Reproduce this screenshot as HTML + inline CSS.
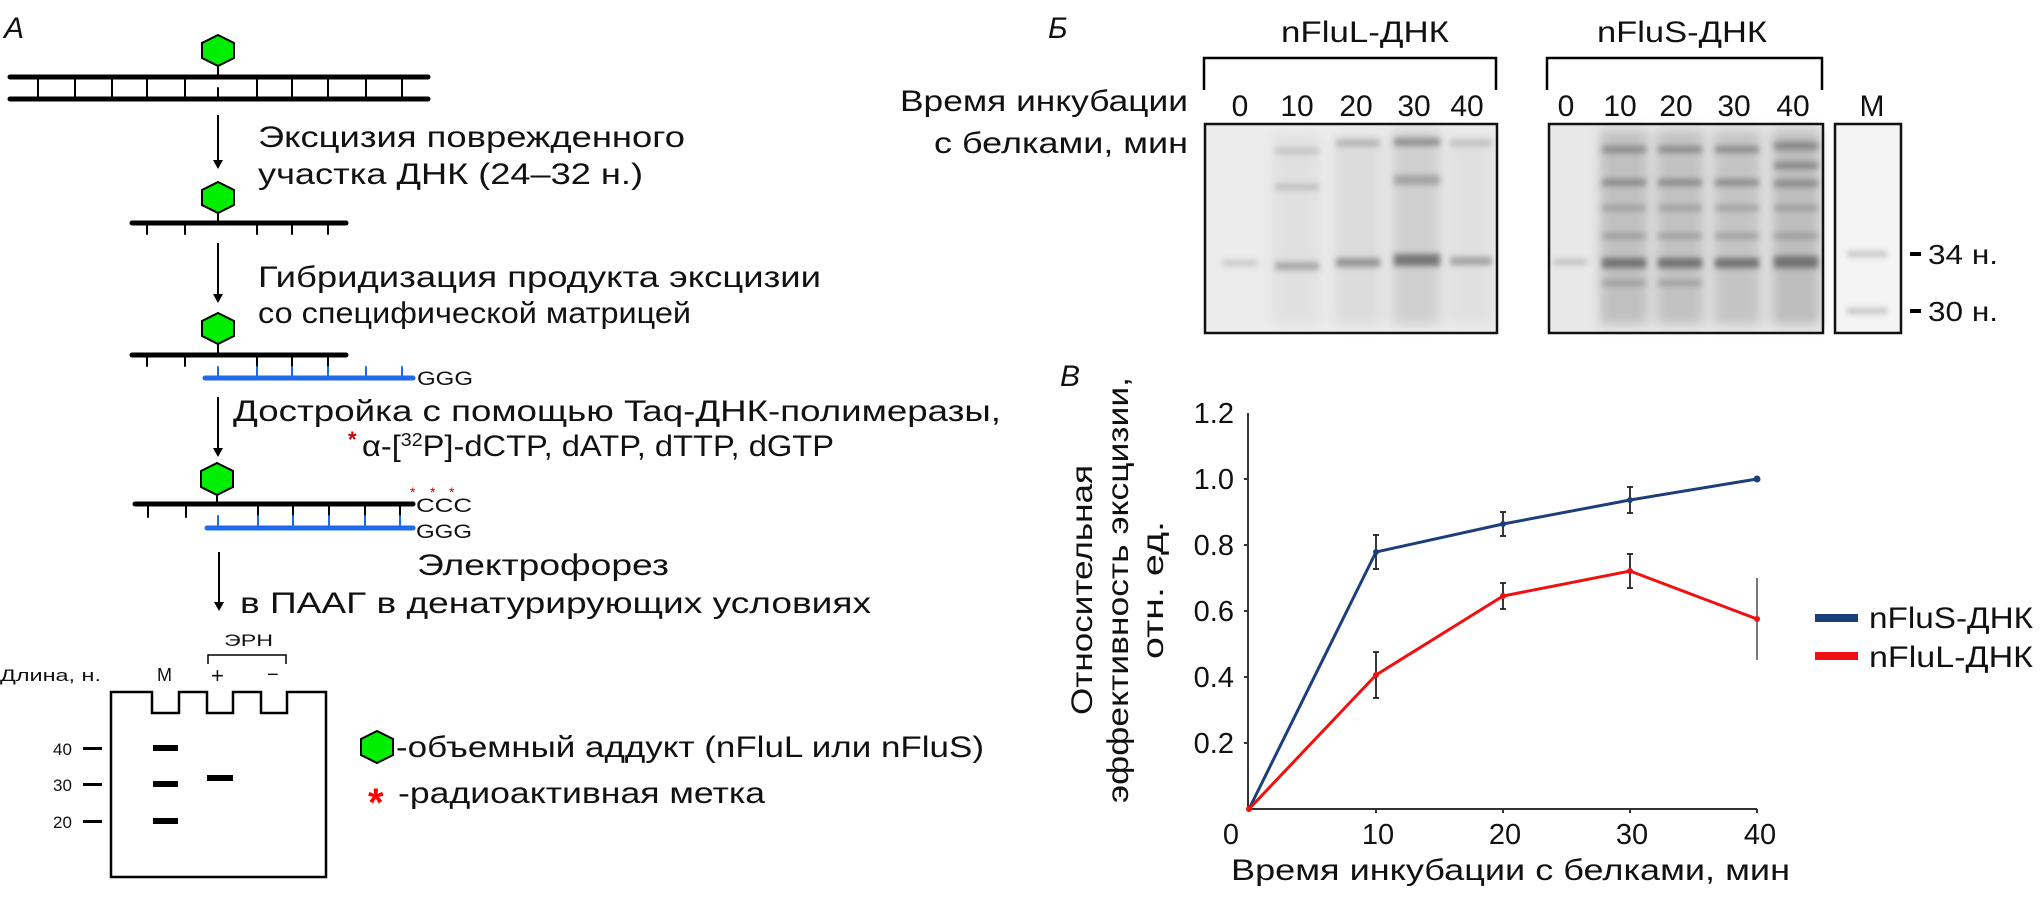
<!DOCTYPE html>
<html><head><meta charset="utf-8"><style>
html,body{margin:0;padding:0;background:#fff;}
svg{display:block;}
text{font-family:"Liberation Sans","DejaVu Sans",sans-serif;fill:#111;}
</style></head><body>
<svg width="2044" height="898" viewBox="0 0 2044 898" xmlns="http://www.w3.org/2000/svg">
<defs>
<filter id="bl" x="-20%" y="-50%" width="140%" height="200%"><feGaussianBlur stdDeviation="3"/></filter>
<filter id="bl2" x="-20%" y="-20%" width="140%" height="140%"><feGaussianBlur stdDeviation="6"/></filter>
</defs>

<!-- ===== Panel A ===== -->
<text x="4" y="38" font-size="30" font-style="italic">А</text>
<g stroke="#000" stroke-width="2">
  <line x1="218" y1="62" x2="218" y2="77"/>
</g>
<polygon points="218,35 234,43 234,58 218,66 202,58 202,43" fill="#0e0" stroke="#000" stroke-width="2"/>
<g stroke="#000" stroke-linecap="round">
  <line x1="10" y1="77" x2="428" y2="77" stroke-width="5"/>
  <line x1="10" y1="99" x2="428" y2="99" stroke-width="5"/>
  <g stroke-width="2">
    <line x1="38" y1="77" x2="38" y2="99"/><line x1="75" y1="77" x2="75" y2="99"/>
    <line x1="112" y1="77" x2="112" y2="99"/><line x1="147" y1="77" x2="147" y2="99"/>
    <line x1="185" y1="77" x2="185" y2="99"/><line x1="218" y1="88" x2="218" y2="99"/>
    <line x1="257" y1="77" x2="257" y2="99"/><line x1="292" y1="77" x2="292" y2="99"/>
    <line x1="328" y1="77" x2="328" y2="99"/><line x1="366" y1="77" x2="366" y2="99"/>
    <line x1="402" y1="77" x2="402" y2="99"/>
  </g>
</g>
<!-- arrow 1 -->
<line x1="218" y1="115" x2="218" y2="162" stroke="#000" stroke-width="2"/>
<polygon points="213,160 223,160 218,169" fill="#000"/>
<text x="258" y="147" font-size="30" textLength="427" lengthAdjust="spacingAndGlyphs">Эксцизия поврежденного</text>
<text x="258" y="184" font-size="30" textLength="385" lengthAdjust="spacingAndGlyphs">участка ДНК (24–32 н.)</text>

<line x1="218" y1="210" x2="218" y2="223" stroke="#000" stroke-width="2"/>
<polygon points="218,182 234,190 234,205 218,213 202,205 202,190" fill="#0e0" stroke="#000" stroke-width="2"/>
<g stroke="#000" stroke-linecap="round">
  <line x1="132" y1="223" x2="346" y2="223" stroke-width="5"/>
  <g stroke-width="2">
    <line x1="147" y1="223" x2="147" y2="234"/><line x1="185" y1="223" x2="185" y2="234"/>
    <line x1="257" y1="223" x2="257" y2="234"/><line x1="292" y1="223" x2="292" y2="234"/>
    <line x1="328" y1="223" x2="328" y2="234"/>
  </g>
</g>
<line x1="218" y1="243" x2="218" y2="296" stroke="#000" stroke-width="2"/>
<polygon points="213,294 223,294 218,303" fill="#000"/>
<text x="258" y="287" font-size="30" textLength="563" lengthAdjust="spacingAndGlyphs">Гибридизация продукта эксцизии</text>
<text x="258" y="323" font-size="30" textLength="433" lengthAdjust="spacingAndGlyphs">со специфической матрицей</text>

<line x1="218" y1="340" x2="218" y2="355" stroke="#000" stroke-width="2"/>
<polygon points="218,313 234,321 234,336 218,344 202,336 202,321" fill="#0e0" stroke="#000" stroke-width="2"/>
<g stroke-linecap="round">
  <line x1="132" y1="355" x2="346" y2="355" stroke="#000" stroke-width="5"/>
  <line x1="205" y1="378" x2="413" y2="378" stroke="#1e6ae8" stroke-width="5"/>
  <g stroke="#000" stroke-width="2">
    <line x1="147" y1="355" x2="147" y2="366"/><line x1="185" y1="355" x2="185" y2="366"/>
    <line x1="257" y1="355" x2="257" y2="367"/><line x1="292" y1="355" x2="292" y2="367"/>
    <line x1="328" y1="355" x2="328" y2="367"/>
  </g>
  <g stroke="#1e6ae8" stroke-width="2">
    <line x1="218" y1="367" x2="218" y2="378"/><line x1="257" y1="367" x2="257" y2="378"/>
    <line x1="292" y1="367" x2="292" y2="378"/><line x1="328" y1="367" x2="328" y2="378"/>
    <line x1="366" y1="367" x2="366" y2="378"/><line x1="402" y1="367" x2="402" y2="378"/>
  </g>
</g>
<text x="417" y="385" font-size="19" textLength="56" lengthAdjust="spacingAndGlyphs">GGG</text>

<line x1="218" y1="397" x2="218" y2="450" stroke="#000" stroke-width="2"/>
<polygon points="213,448 223,448 218,457" fill="#000"/>
<text x="233" y="421" font-size="30" textLength="768" lengthAdjust="spacingAndGlyphs">Достройка с помощью Taq-ДНК-полимеразы,</text>
<text x="348" y="447" font-size="22" font-weight="bold" style="fill:#c00">*</text>
<text x="362" y="456" font-size="30" textLength="472" lengthAdjust="spacingAndGlyphs">α-[<tspan font-size="18" dy="-10">32</tspan><tspan dy="10">P]-dCTP, dATP, dTTP, dGTP</tspan></text>

<line x1="217" y1="492" x2="217" y2="504" stroke="#000" stroke-width="2"/>
<polygon points="217,463 233,471 233,487 217,495 201,487 201,471" fill="#0e0" stroke="#000" stroke-width="2"/>
<g stroke-linecap="round">
  <line x1="135" y1="504" x2="413" y2="504" stroke="#000" stroke-width="5"/>
  <line x1="207" y1="528" x2="413" y2="528" stroke="#1e6ae8" stroke-width="5"/>
  <g stroke="#000" stroke-width="2">
    <line x1="148" y1="504" x2="148" y2="517"/><line x1="186" y1="504" x2="186" y2="517"/>
    <line x1="258" y1="504" x2="258" y2="516"/><line x1="293" y1="504" x2="293" y2="516"/>
    <line x1="329" y1="504" x2="329" y2="516"/><line x1="365" y1="504" x2="365" y2="516"/>
    <line x1="400" y1="504" x2="400" y2="516"/>
  </g>
  <g stroke="#1e6ae8" stroke-width="2">
    <line x1="218" y1="516" x2="218" y2="528"/><line x1="258" y1="516" x2="258" y2="528"/>
    <line x1="293" y1="516" x2="293" y2="528"/><line x1="329" y1="516" x2="329" y2="528"/>
    <line x1="365" y1="516" x2="365" y2="528"/><line x1="400" y1="516" x2="400" y2="528"/>
  </g>
</g>
<text x="410" y="497" font-size="14" style="fill:#c00">*</text>
<text x="430" y="497" font-size="14" style="fill:#c00">*</text>
<text x="449" y="497" font-size="14" style="fill:#c00">*</text>
<text x="416" y="512" font-size="19" textLength="56" lengthAdjust="spacingAndGlyphs">CCC</text>
<text x="416" y="538" font-size="19" textLength="56" lengthAdjust="spacingAndGlyphs">GGG</text>

<line x1="219" y1="552" x2="219" y2="604" stroke="#000" stroke-width="2"/>
<polygon points="214,602 224,602 219,611" fill="#000"/>
<text x="417" y="575" font-size="30" textLength="252" lengthAdjust="spacingAndGlyphs">Электрофорез</text>
<text x="240" y="613" font-size="30" textLength="631" lengthAdjust="spacingAndGlyphs">в ПААГ в денатурирующих условиях</text>

<!-- schematic gel -->
<text x="224" y="646" font-size="17" textLength="49" lengthAdjust="spacingAndGlyphs">ЭРН</text>
<polyline points="208,664 208,655 286,655 286,664" fill="none" stroke="#000" stroke-width="1.5"/>
<text x="0" y="681" font-size="17" textLength="101" lengthAdjust="spacingAndGlyphs">Длина, н.</text>
<text x="157" y="681" font-size="18">М</text>
<text x="211" y="683" font-size="22">+</text>
<text x="267" y="681" font-size="20">−</text>
<path d="M111,877 L111,692 L152,692 L152,713 L179,713 L179,692 L207,692 L207,713 L233,713 L233,692 L261,692 L261,713 L287,713 L287,692 L326,692 L326,877 Z" fill="none" stroke="#000" stroke-width="2.5"/>
<g fill="#000">
  <rect x="153" y="745" width="25" height="6"/>
  <rect x="153" y="781" width="25" height="6"/>
  <rect x="153" y="818" width="25" height="6"/>
  <rect x="207" y="775" width="26" height="6"/>
  <rect x="83" y="747" width="19" height="3"/>
  <rect x="83" y="783" width="19" height="3"/>
  <rect x="83" y="820" width="19" height="3"/>
</g>
<text x="53" y="755" font-size="17">40</text>
<text x="53" y="791" font-size="17">30</text>
<text x="53" y="828" font-size="17">20</text>

<polygon points="377,731 393,739 393,755 377,763 361,755 361,739" fill="#0e0" stroke="#000" stroke-width="2"/>
<text x="396" y="757" font-size="30" textLength="588" lengthAdjust="spacingAndGlyphs">-объемный аддукт (nFluL или nFluS)</text>
<text x="368" y="816" font-size="40" font-weight="bold" style="fill:#f00">*</text>
<text x="398" y="803" font-size="30" textLength="367" lengthAdjust="spacingAndGlyphs">-радиоактивная метка</text>

<!-- ===== Panel Б ===== -->
<text x="1048" y="38" font-size="30" font-style="italic">Б</text>
<text x="1281" y="42" font-size="30" textLength="168" lengthAdjust="spacingAndGlyphs">nFluL-ДНК</text>
<text x="1597" y="42" font-size="30" textLength="170" lengthAdjust="spacingAndGlyphs">nFluS-ДНК</text>
<polyline points="1204,90 1204,58 1496,58 1496,90" fill="none" stroke="#000" stroke-width="2.5"/>
<polyline points="1547,90 1547,58 1822,58 1822,90" fill="none" stroke="#000" stroke-width="2.5"/>
<text x="1188" y="111" font-size="30" text-anchor="end" textLength="288" lengthAdjust="spacingAndGlyphs">Время инкубации</text>
<text x="1188" y="153" font-size="30" text-anchor="end" textLength="254" lengthAdjust="spacingAndGlyphs">с белками, мин</text>
<g font-size="30" text-anchor="middle">
  <text x="1240" y="116">0</text><text x="1297" y="116">10</text><text x="1356" y="116">20</text><text x="1414" y="116">30</text><text x="1467" y="116">40</text>
  <text x="1566" y="116">0</text><text x="1620" y="116">10</text><text x="1676" y="116">20</text><text x="1734" y="116">30</text><text x="1793" y="116">40</text>
  <text x="1872" y="116">М</text>
</g>

<!-- gel 1 -->
<rect x="1205" y="124" width="292" height="209" fill="#ececec"/>
<g filter="url(#bl2)" fill="#ccc">
  <rect x="1272" y="135" width="48" height="190" opacity="0.35"/>
  <rect x="1334" y="135" width="48" height="190" opacity="0.5"/>
  <rect x="1392" y="130" width="48" height="195" opacity="0.9"/>
  <rect x="1448" y="135" width="45" height="190" opacity="0.35"/>
</g>
<g filter="url(#bl)" fill="#777">
  <rect x="1222" y="260" width="36" height="6" opacity="0.3"/>
  <rect x="1275" y="262" width="44" height="8" opacity="0.55"/>
  <rect x="1336" y="258" width="44" height="9" opacity="0.7"/>
  <rect x="1394" y="254" width="46" height="12" opacity="1"/>
  <rect x="1450" y="257" width="42" height="8" opacity="0.6"/>
  <rect x="1394" y="138" width="46" height="8" opacity="0.7"/>
  <rect x="1336" y="140" width="44" height="6" opacity="0.45"/>
  <rect x="1275" y="148" width="44" height="6" opacity="0.3"/>
  <rect x="1275" y="184" width="44" height="6" opacity="0.35"/>
  <rect x="1394" y="175" width="46" height="10" opacity="0.5"/>
  <rect x="1450" y="140" width="42" height="6" opacity="0.35"/>
</g>
<rect x="1205" y="124" width="292" height="209" fill="none" stroke="#111" stroke-width="2.5"/>

<!-- gel 2 -->
<rect x="1549" y="124" width="274" height="209" fill="#e8e8e8"/>
<g filter="url(#bl2)" fill="#bbb">
  <rect x="1600" y="130" width="48" height="195" opacity="0.9"/>
  <rect x="1656" y="130" width="48" height="195" opacity="0.85"/>
  <rect x="1713" y="130" width="48" height="195" opacity="0.8"/>
  <rect x="1772" y="130" width="48" height="195" opacity="0.95"/>
</g>
<g filter="url(#bl)" fill="#666">
  <rect x="1553" y="259" width="34" height="6" opacity="0.3"/>
  <g opacity="0.85">
    <rect x="1602" y="258" width="44" height="10"/><rect x="1658" y="258" width="44" height="10"/>
    <rect x="1715" y="258" width="44" height="10"/><rect x="1774" y="256" width="44" height="12"/>
  </g>
  <g opacity="0.6">
    <rect x="1602" y="146" width="44" height="7"/><rect x="1658" y="146" width="44" height="7"/>
    <rect x="1715" y="146" width="44" height="7"/><rect x="1774" y="142" width="44" height="8"/>
    <rect x="1602" y="179" width="44" height="7"/><rect x="1658" y="179" width="44" height="7"/>
    <rect x="1715" y="179" width="44" height="7"/><rect x="1774" y="162" width="44" height="7"/>
    <rect x="1774" y="180" width="44" height="7"/>
  </g>
  <g opacity="0.4">
    <rect x="1602" y="205" width="44" height="6"/><rect x="1658" y="205" width="44" height="6"/>
    <rect x="1715" y="205" width="44" height="6"/><rect x="1774" y="205" width="44" height="6"/>
    <rect x="1602" y="233" width="44" height="6"/><rect x="1658" y="233" width="44" height="6"/>
    <rect x="1715" y="233" width="44" height="6"/><rect x="1774" y="233" width="44" height="6"/>
    <rect x="1602" y="280" width="44" height="6"/><rect x="1658" y="280" width="44" height="6"/>
  </g>
</g>
<rect x="1549" y="124" width="274" height="209" fill="none" stroke="#111" stroke-width="2.5"/>

<!-- marker lane -->
<rect x="1835" y="124" width="66" height="209" fill="#f4f4f4"/>
<g filter="url(#bl)" fill="#888" opacity="0.45">
  <rect x="1847" y="251" width="40" height="6"/>
  <rect x="1847" y="308" width="40" height="6"/>
</g>
<rect x="1835" y="124" width="66" height="209" fill="none" stroke="#111" stroke-width="2.5"/>
<rect x="1910" y="252" width="11" height="4" fill="#000"/>
<rect x="1910" y="309" width="11" height="4" fill="#000"/>
<text x="1928" y="264" font-size="28" textLength="70" lengthAdjust="spacingAndGlyphs">34 н.</text>
<text x="1928" y="321" font-size="28" textLength="70" lengthAdjust="spacingAndGlyphs">30 н.</text>

<!-- ===== Panel В ===== -->
<text x="1060" y="386" font-size="30" font-style="italic">В</text>
<g font-size="30" text-anchor="middle">
  <text transform="translate(1092,590) rotate(-90)" textLength="250" lengthAdjust="spacingAndGlyphs">Относительная</text>
  <text transform="translate(1128,590) rotate(-90)" textLength="426" lengthAdjust="spacingAndGlyphs">эффективность эксцизии,</text>
  <text transform="translate(1163,590) rotate(-90)" textLength="138" lengthAdjust="spacingAndGlyphs">отн. ед.</text>
</g>
<g stroke="#333" stroke-width="2" fill="none">
  <line x1="1248" y1="413" x2="1248" y2="809"/>
  <line x1="1248" y1="809" x2="1757" y2="809"/>
  <line x1="1244" y1="479" x2="1248" y2="479"/>
  <line x1="1244" y1="545" x2="1248" y2="545"/>
  <line x1="1244" y1="611" x2="1248" y2="611"/>
  <line x1="1244" y1="677" x2="1248" y2="677"/>
  <line x1="1244" y1="743" x2="1248" y2="743"/>
  <line x1="1376" y1="809" x2="1376" y2="813"/>
  <line x1="1503" y1="809" x2="1503" y2="813"/>
  <line x1="1630" y1="809" x2="1630" y2="813"/>
  <line x1="1757" y1="809" x2="1757" y2="813"/>
</g>
<g font-size="29" text-anchor="end">
  <text x="1234" y="423">1.2</text><text x="1234" y="489">1.0</text><text x="1234" y="555">0.8</text>
  <text x="1234" y="621">0.6</text><text x="1234" y="687">0.4</text><text x="1234" y="753">0.2</text>
</g>
<g font-size="29" text-anchor="middle">
  <text x="1231" y="844">0</text><text x="1378" y="844">10</text><text x="1505" y="844">20</text>
  <text x="1632" y="844">30</text><text x="1760" y="844">40</text>
</g>
<text x="1231" y="880" font-size="30" textLength="559" lengthAdjust="spacingAndGlyphs">Время инкубации с белками, мин</text>

<polyline points="1249,809 1376,552 1503,524 1630,500 1757,479" fill="none" stroke="#1c3f7a" stroke-width="3"/>
<polyline points="1249,809 1376,675 1503,596 1630,571 1757,619" fill="none" stroke="#f01010" stroke-width="3"/>
<g stroke="#222" stroke-width="1.8">
  <line x1="1376" y1="535" x2="1376" y2="569"/><line x1="1373" y1="535" x2="1379" y2="535"/><line x1="1373" y1="569" x2="1379" y2="569"/>
  <line x1="1503" y1="512" x2="1503" y2="536"/><line x1="1500" y1="512" x2="1506" y2="512"/><line x1="1500" y1="536" x2="1506" y2="536"/>
  <line x1="1630" y1="487" x2="1630" y2="513"/><line x1="1627" y1="487" x2="1633" y2="487"/><line x1="1627" y1="513" x2="1633" y2="513"/>
  <line x1="1376" y1="652" x2="1376" y2="698"/><line x1="1373" y1="652" x2="1379" y2="652"/><line x1="1373" y1="698" x2="1379" y2="698"/>
  <line x1="1503" y1="583" x2="1503" y2="609"/><line x1="1500" y1="583" x2="1506" y2="583"/><line x1="1500" y1="609" x2="1506" y2="609"/>
  <line x1="1630" y1="554" x2="1630" y2="588"/><line x1="1627" y1="554" x2="1633" y2="554"/><line x1="1627" y1="588" x2="1633" y2="588"/>
  <line x1="1757" y1="578" x2="1757" y2="660" stroke-width="1.2"/>
</g>
<g>
  <circle cx="1376" cy="552" r="3" fill="#1c3f7a"/><circle cx="1503" cy="524" r="3" fill="#1c3f7a"/>
  <circle cx="1630" cy="500" r="3" fill="#1c3f7a"/><circle cx="1757" cy="479" r="3.5" fill="#1c3f7a"/>
  <circle cx="1376" cy="675" r="3" fill="#f01010"/><circle cx="1503" cy="596" r="3" fill="#f01010"/>
  <circle cx="1630" cy="571" r="3" fill="#f01010"/><circle cx="1757" cy="619" r="3" fill="#f01010"/>
  <circle cx="1249" cy="809" r="3" fill="#f01010"/>
</g>
<rect x="1815" y="614" width="43" height="8" fill="#1c3f7a"/>
<rect x="1815" y="652" width="43" height="8" fill="#f01010"/>
<text x="1869" y="628" font-size="30" textLength="164" lengthAdjust="spacingAndGlyphs">nFluS-ДНК</text>
<text x="1869" y="667" font-size="30" textLength="164" lengthAdjust="spacingAndGlyphs">nFluL-ДНК</text>
</svg>
</body></html>
